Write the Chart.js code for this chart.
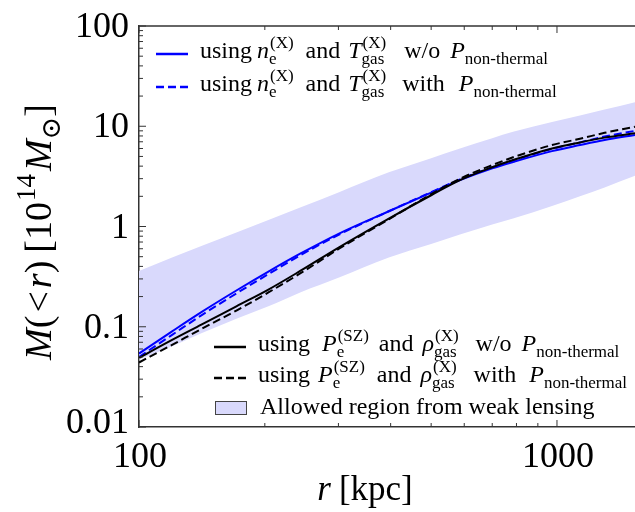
<!DOCTYPE html>
<html>
<head>
<meta charset="utf-8">
<script src="https://cdn.jsdelivr.net/npm/chart.js@4.4.0/dist/chart.umd.min.js"></script>
<style>
  html, body { margin: 0; padding: 0; background: #fff; overflow: hidden; }
  #wrap { width: 635px; height: 512px; }
</style>
</head>
<body>
<div id="wrap"><canvas id="massChart" width="635" height="512"></canvas></div>
<script>
const radius = [100, 120, 141, 171, 204, 243, 301, 396, 500, 586, 700, 785, 973, 1135, 1300, 1537];

// M(<r) in 10^14 Msun
const massXNoNT    = [0.054, 0.090, 0.140, 0.23, 0.355, 0.535, 0.85, 1.42, 2.18, 2.9, 3.8, 4.4, 5.65, 6.5, 7.3, 8.2];   // blue solid
const massXWithNT  = [0.050, 0.083, 0.130, 0.215, 0.335, 0.515, 0.83, 1.42, 2.2, 2.95, 3.9, 4.55, 5.95, 6.9, 7.9, 9.0]; // blue dashed
const massSZNoNT   = [0.049, 0.074, 0.105, 0.16, 0.235, 0.36, 0.62, 1.2, 2.05, 2.9, 3.9, 4.6, 6.0, 6.9, 7.7, 8.5];     // black solid
const massSZWithNT = [0.044, 0.066, 0.095, 0.145, 0.22, 0.34, 0.60, 1.18, 2.1, 3.0, 4.1, 4.9, 6.5, 7.5, 8.6, 9.9];   // black dashed

// weak lensing band
const lensLow  = [0.047, 0.064, 0.086, 0.12, 0.16, 0.22, 0.31, 0.49, 0.67, 0.83, 1.05, 1.2, 1.6, 2.0, 2.45, 3.2];
const lensHigh = [0.36, 0.49, 0.64, 0.87, 1.16, 1.55, 2.2, 3.47, 4.8, 6.0, 7.6, 8.8, 11.0, 12.8, 14.7, 17.4];

const yTickLabels = ['0.01', '0.1', '1', '10', '100'];
const xTickLabels = ['100', '1000'];
const xMinorTicks = [200, 300, 400, 500, 600, 700, 800, 900];
const yMinorSteps = [2, 3, 4, 5, 6, 7, 8, 9];

const BLUE = 'rgb(0,0,255)';
const BAND = 'rgb(217,217,252)';
const SERIF = '"Liberation Serif", "DejaVu Serif", serif';

// legend rows: strings = roman text, numbers = gap in px, {i} italic, {sub,sup} scripts
const legendTop = [
  ['using', 5, {i: 'n'}, {sub: 'e', sup: '(X)'}, 12, 'and', 8, {i: 'T'}, {sub: 'gas', sup: '(X)'}, 18, 'w/o', 10, {i: 'P'}, {sub: 'non-thermal'}],
  ['using', 5, {i: 'n'}, {sub: 'e', sup: '(X)'}, 12, 'and', 8, {i: 'T'}, {sub: 'gas', sup: '(X)'}, 16, 'with', 14, {i: 'P'}, {sub: 'non-thermal'}]
];
const legendBottom = [
  ['using', 12, {i: 'P'}, {sub: 'e', sup: '(SZ)'}, 10, 'and', 9, {i: 'ρ'}, {sub: 'gas', sup: '(X)'}, 17, 'w/o', 10, {i: 'P'}, {sub: 'non-thermal'}],
  ['using', 8, {i: 'P'}, {sub: 'e', sup: '(SZ)'}, 12, 'and', 9, {i: 'ρ'}, {sub: 'gas', sup: '(X)'}, 17, 'with', 13, {i: 'P'}, {sub: 'non-thermal'}],
  ['Allowed region from weak lensing']
];
const yTitle = [{i: 'M'}, '(', 3, '<', 3, {i: 'r'}, ')', 8, '[', '10', {sup: '14'}, 3, {i: 'M'}, {sub: '⊙'}, ']'];
const xTitle = [{i: 'r'}, 8, '[kpc]'];

function pts(arr) {
  return radius.map((r, i) => ({x: r, y: arr[i]}));
}

// draws (or just measures) a run of mixed text
function richText(ctx, parts, size, x, y, draw) {
  let cx = x;
  const small = Math.round(size * 0.72);
  for (const p of parts) {
    if (typeof p === 'number') { cx += p; continue; }
    if (typeof p === 'string' || p.i) {
      const t = typeof p === 'string' ? p : p.i;
      ctx.font = (p.i ? 'italic ' : '') + size + 'px ' + SERIF;
      if (draw) ctx.fillText(t, cx, y);
      cx += ctx.measureText(t).width;
      continue;
    }
    ctx.font = small + 'px ' + SERIF;
    let w = 0;
    if (p.sup) {
      if (draw) ctx.fillText(p.sup, cx + 1, y - size * 0.42);
      w = Math.max(w, ctx.measureText(p.sup).width + 1);
    }
    if (p.sub) {
      if (draw) ctx.fillText(p.sub, cx, y + size * 0.24);
      w = Math.max(w, ctx.measureText(p.sub).width);
    }
    cx += w;
  }
  return cx - x;
}

const frameAndTicks = {
  id: 'frameAndTicks',
  afterDatasetsDraw(chart) {
    const {ctx, chartArea: a, scales: {x, y}} = chart;
    ctx.save();
    ctx.strokeStyle = '#333';
    ctx.lineWidth = 1.5;
    ctx.beginPath();
    ctx.moveTo(a.left, a.top);
    ctx.lineTo(a.right, a.top);
    ctx.stroke();

    ctx.lineWidth = 1;
    ctx.beginPath();
    // left axis ticks, pointing inward
    yTickLabels.forEach(lbl => {
      const v = Number(lbl);
      const py = y.getPixelForValue(v);
      ctx.moveTo(a.left, py); ctx.lineTo(a.left + 7, py);
      if (v < 100) {
        yMinorSteps.forEach(k => {
          const my = y.getPixelForValue(v * k);
          ctx.moveTo(a.left, my); ctx.lineTo(a.left + 4, my);
        });
      }
    });
    // bottom and top ticks
    xTickLabels.forEach(lbl => {
      const px = x.getPixelForValue(Number(lbl));
      ctx.moveTo(px, a.bottom); ctx.lineTo(px, a.bottom - 7);
      ctx.moveTo(px, a.top); ctx.lineTo(px, a.top + 7);
    });
    xMinorTicks.forEach(v => {
      const px = x.getPixelForValue(v);
      ctx.moveTo(px, a.bottom); ctx.lineTo(px, a.bottom - 4);
      ctx.moveTo(px, a.top); ctx.lineTo(px, a.top + 4);
    });
    ctx.stroke();
    ctx.restore();
  },
  afterDraw(chart) {
    const {ctx, chartArea: a, scales: {x, y}} = chart;
    ctx.save();
    ctx.fillStyle = '#000';
    ctx.textBaseline = 'alphabetic';

    // tick labels
    ctx.font = '36px ' + SERIF;
    ctx.textAlign = 'right';
    yTickLabels.forEach(lbl => {
      const py = y.getPixelForValue(Number(lbl));
      ctx.fillText(lbl, a.left - 10, Math.min(py + 11, a.bottom + 6));
    });
    ctx.textAlign = 'center';
    xTickLabels.forEach(lbl => {
      ctx.fillText(lbl, x.getPixelForValue(Number(lbl)) + 1, a.bottom + 40);
    });

    ctx.textAlign = 'left';
    // axis titles
    const xw = richText(ctx, xTitle, 35, 0, 0, false);
    richText(ctx, xTitle, 35, 365 - xw / 2, 500, true);
    const yw = richText(ctx, yTitle, 38, 0, 0, false);
    ctx.save();
    ctx.translate(51, 232);
    ctx.rotate(-Math.PI / 2);
    richText(ctx, yTitle, 38, -yw / 2, 0, true);
    ctx.restore();

    // legends
    const sample = (x0, yy, color, dash) => {
      ctx.save();
      ctx.strokeStyle = color;
      ctx.lineWidth = 2.5;
      ctx.setLineDash(dash);
      ctx.beginPath();
      ctx.moveTo(x0, yy); ctx.lineTo(x0 + 32, yy);
      ctx.stroke();
      ctx.restore();
    };
    sample(156, 54, BLUE, []);
    sample(156, 87, BLUE, [8, 4]);
    richText(ctx, legendTop[0], 24, 200, 58, true);
    richText(ctx, legendTop[1], 24, 200, 91, true);

    sample(214, 347, '#000', []);
    sample(214, 378, '#000', [8, 4]);
    ctx.fillStyle = BAND;
    ctx.fillRect(215, 401, 32, 14);
    ctx.strokeStyle = '#444';
    ctx.lineWidth = 1;
    ctx.strokeRect(215.5, 401.5, 31, 13);
    ctx.fillStyle = '#000';
    richText(ctx, legendBottom[0], 24, 258, 351, true);
    richText(ctx, legendBottom[1], 24, 258, 382, true);
    richText(ctx, legendBottom[2], 24, 260, 414, true);
    ctx.restore();
  }
};

const lineStyle = {pointRadius: 0, borderWidth: 2, cubicInterpolationMode: 'monotone', fill: false};

const ctx = document.getElementById('massChart').getContext('2d');
const massChart = new Chart(ctx, {
  type: 'line',
  data: {
    datasets: [
      {...lineStyle, label: 'SZ with NT', data: pts(massSZWithNT), borderColor: '#000', borderDash: [8, 4], order: 1},
      {...lineStyle, label: 'SZ w/o NT', data: pts(massSZNoNT), borderColor: '#000', order: 2},
      {...lineStyle, label: 'X with NT', data: pts(massXWithNT), borderColor: BLUE, borderDash: [8, 4], order: 3},
      {...lineStyle, label: 'X w/o NT', data: pts(massXNoNT), borderColor: BLUE, order: 4},
      {...lineStyle, label: 'lensing low', data: pts(lensLow), borderWidth: 0, borderColor: 'rgba(0,0,0,0)', order: 6},
      {...lineStyle, label: 'lensing high', data: pts(lensHigh), borderWidth: 0, borderColor: 'rgba(0,0,0,0)',
        backgroundColor: BAND, fill: 4, order: 5}
    ]
  },
  options: {
    responsive: false,
    animation: false,
    devicePixelRatio: 1,
    layout: {padding: {top: 26, right: 0, left: 0, bottom: 0}},
    plugins: {legend: {display: false}, tooltip: {enabled: false}},
    scales: {
      x: {
        type: 'logarithmic', min: 100, max: 1537,
        grid: {display: false},
        border: {display: true, color: '#333', width: 1.5},
        ticks: {display: false},
        afterFit: s => { s.height = 85; }
      },
      y: {
        type: 'logarithmic', min: 0.01, max: 100,
        grid: {display: false},
        border: {display: true, color: '#333', width: 1.5},
        ticks: {display: false},
        afterFit: s => { s.width = 139; }
      }
    }
  },
  plugins: [frameAndTicks]
});
</script>
</body>
</html>
